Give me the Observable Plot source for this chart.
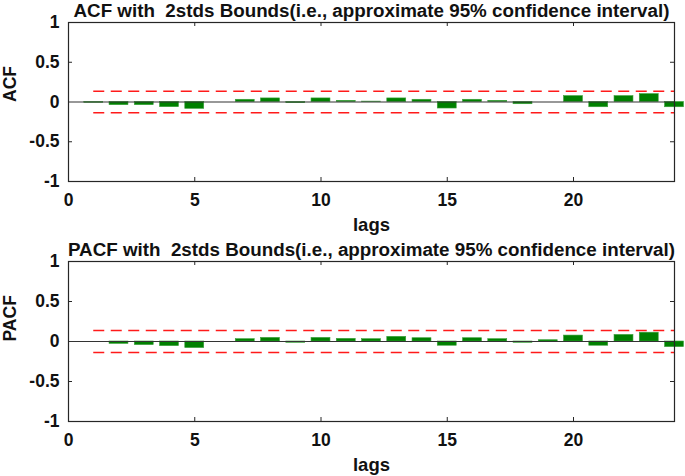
<!DOCTYPE html>
<html>
<head>
<meta charset="utf-8">
<script src="https://cdn.jsdelivr.net/npm/d3@7"></script>
<script src="https://cdn.jsdelivr.net/npm/@observablehq/plot@0.6"></script>
<style>
  html, body { margin: 0; padding: 0; background: #fff; }
  #chart { width: 685px; height: 476px; overflow: hidden; }
  #chart svg { display: block; }
</style>
</head>
<body>
<div id="chart"></div>
<script>
const lags = [1,2,3,4,5,6,7,8,9,10,11,12,13,14,15,16,17,18,19,20,21,22,23,24];
const acfValues = [-0.01,-0.04,-0.04,-0.065,-0.086,0.0,0.028,0.045,-0.015,0.045,0.015,0.005,
                   0.045,0.028,-0.082,0.028,0.015,-0.028,0.0,0.074,-0.066,0.074,0.099,-0.066];
const pacfValues = [0.0,-0.03,-0.045,-0.058,-0.082,0.0,0.029,0.045,-0.016,0.045,0.033,0.029,
                    0.058,0.041,-0.053,0.041,0.029,-0.016,0.016,0.074,-0.053,0.082,0.11,-0.07];
const bound = 0.136;
const xTicks = [0,5,10,15,20];
const yTicks = [-1,-0.5,0,0.5,1];
const titles = ["ACF with  2stds Bounds(i.e., approximate 95% confidence interval)",
                "PACF with  2stds Bounds(i.e., approximate 95% confidence interval)"];
const yLabels = ["ACF","PACF"];
const xLabel = "lags";

const FONT = "'Liberation Sans', Arial, Helvetica, sans-serif";
const halfWidth = 0.375;

function panel(values, title, ylab, marginTop, marginBottom, height) {
  const data = lags.map((lag, i) => ({lag, v: values[i]}));
  const innerH = height - marginTop - marginBottom;
  const innerW = 685 - 68 - 11;
  return Plot.plot({
    width: 685,
    height,
    marginLeft: 68,
    marginRight: 11,
    marginTop,
    marginBottom,
    style: {fontFamily: FONT, fontSize: "17px", fontWeight: "bold", color: "#111", background: "#fff", overflow: "visible"},
    x: {domain: [0, 24]},
    y: {domain: [-1, 1]},
    marks: [
      Plot.rectY(data, {x1: d => d.lag - halfWidth, x2: d => d.lag + halfWidth, y1: 0, y2: "v", fill: "#008000", stroke: "#3aa03a", strokeWidth: 0.6}),
      Plot.ruleY([0], {stroke: "#333", strokeWidth: 1.2}),
      Plot.ruleY([bound, -bound], {x1: () => lags[0], x2: () => lags[lags.length - 1], stroke: "#ff1a1a", strokeWidth: 1.5, strokeDasharray: "11,6.5"}),
      Plot.frame({stroke: "#262626", strokeWidth: 1.2}),
      Plot.tickX(xTicks.slice(1), {x: d => d, insetTop: innerH - 4, stroke: "#262626"}),
      Plot.tickX(xTicks.slice(1), {x: d => d, insetBottom: innerH - 4, stroke: "#262626"}),
      Plot.tickY([0.5, -0.5], {y: d => d, insetRight: innerW - 4, stroke: "#262626"}),
      Plot.tickY([0.5, -0.5], {y: d => d, insetLeft: innerW - 4, stroke: "#262626"}),
      Plot.axisX({ticks: xTicks, tickSize: 0, tickPadding: 12, tickFormat: d => String(d), label: null, fontSize: 17.5, fontWeight: "bold"}),
      Plot.axisY({ticks: yTicks, tickSize: 0, tickPadding: 9, tickFormat: d => String(d), label: null, fontSize: 17.5, fontWeight: "bold"}),
      Plot.text([xLabel], {text: d => d, frameAnchor: "bottom", dy: 44, lineAnchor: "middle", fontSize: 18.5, fontWeight: "bold", fill: "#111"}),
      Plot.text([ylab], {text: d => d, frameAnchor: "left", dx: -58, rotate: -90, lineAnchor: "middle", fontSize: 17.5, fontWeight: "bold", fill: "#111"}),
      Plot.text([title], {text: d => d, frameAnchor: "top", dy: -12, lineAnchor: "middle", fontSize: 18.8, fontWeight: "bold", fill: "#111"})
    ]
  });
}

const chart = document.getElementById("chart");
chart.append(panel(acfValues, titles[0], yLabels[0], 22, 57, 238));
chart.append(panel(pacfValues, titles[1], yLabels[1], 23, 55, 238));
</script>
</body>
</html>
